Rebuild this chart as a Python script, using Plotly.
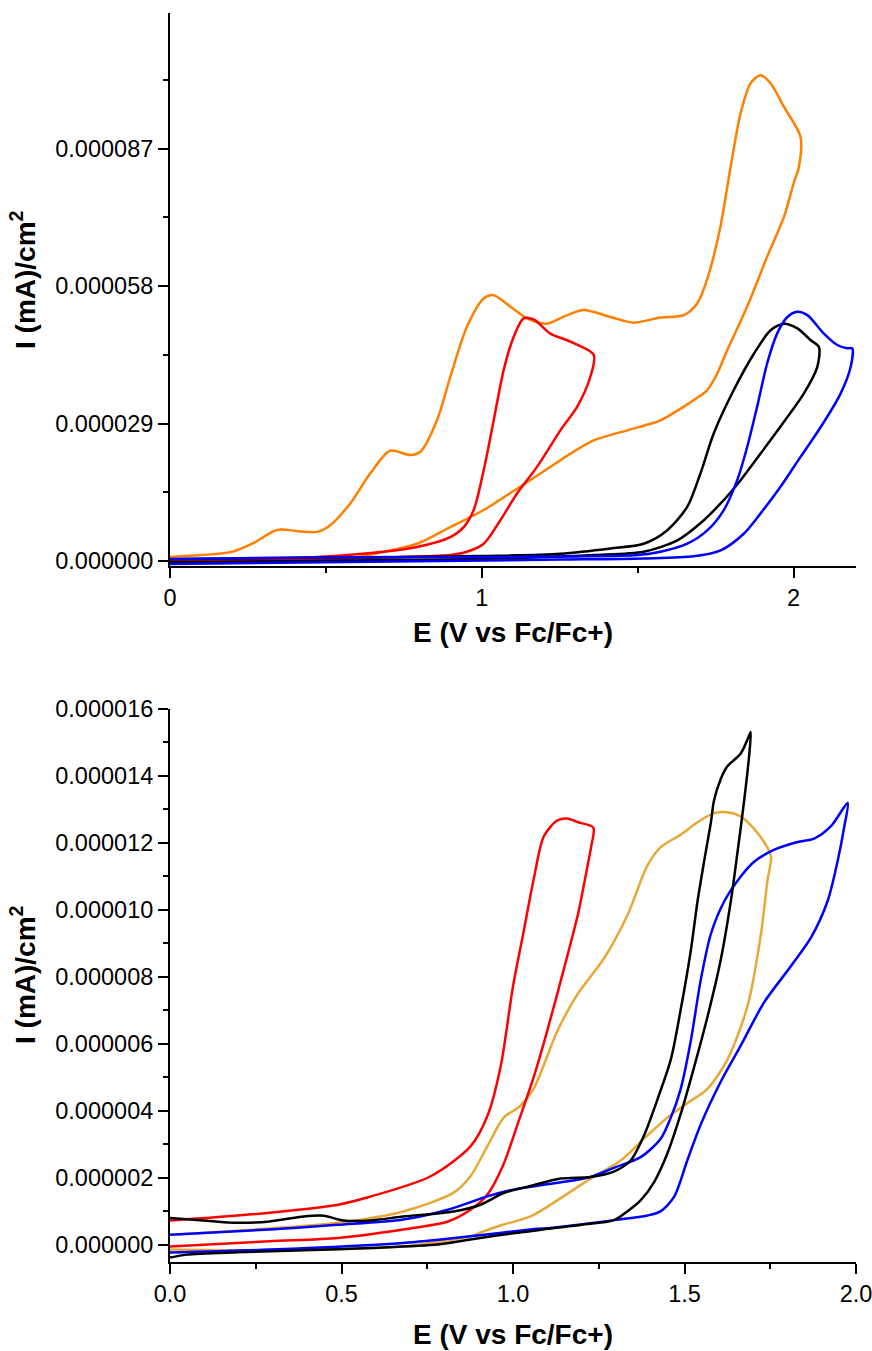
import plotly.graph_objects as go

# Current values are in units of 1e-6 mA/cm^2
SCALE = 1e-6

# ---------------- Top panel ----------------
top_orange_x = [0, 0.10, 0.20, 0.267, 0.343, 0.417, 0.471, 0.514, 0.578, 0.642, 0.706, 0.77, 0.803, 0.856,
                0.899, 0.952, 1.006, 1.038, 1.091, 1.145, 1.209, 1.27, 1.327, 1.413, 1.487, 1.573, 1.648,
                1.691, 1.723, 1.765, 1.798, 1.83, 1.862, 1.894, 1.926, 1.969, 2.022,
                2.017, 2.0, 1.969, 1.915, 1.851, 1.787, 1.755, 1.723, 1.68, 1.648, 1.573, 1.541, 1.466,
                1.359, 1.284, 1.252, 1.113, 1.006, 0.899, 0.792, 0.685, 0.578, 0.471, 0.257, 0]
top_orange_y = [0.9, 1.3, 2.0, 3.8, 6.6, 6.3, 6.2, 7.6, 12.2, 18.5, 23.3, 22.4, 23.1, 29.7,
                38.9, 49.4, 55.4, 56.1, 53.7, 51.2, 50.1, 51.8, 53.0, 51.5, 50.3, 51.4, 51.9,
                54.4, 59.5, 70.5, 83.2, 94.5, 100.8, 102.5, 100.8, 95.8, 89.5,
                83.2, 79.7, 72.6, 64.2, 53.7, 44.5, 39.6, 36.1, 34.0, 32.6, 29.7, 29.0, 27.6,
                25.5, 22.7, 21.3, 15.3, 10.8, 7.2, 3.7, 2.0, 0.6, 0.2, -0.1, -0.3]

top_red_x = [0, 0.3, 0.5, 0.685, 0.792, 0.899, 0.942, 0.974, 1.006, 1.038, 1.07, 1.102, 1.134, 1.166,
             1.22, 1.284, 1.359,
             1.348, 1.306, 1.252, 1.177, 1.113, 1.059, 1.006, 0.952, 0.899, 0.685, 0.4, 0]
top_red_y = [0.3, 0.5, 1.0, 2.0, 3.0, 5.1, 7.2, 10.8, 19.2, 29.7, 40.3, 47.3, 51.2, 51.0,
             48.0, 46.3, 43.5,
             38.9, 32.6, 27.6, 19.9, 14.3, 8.6, 3.7, 2.0, 1.3, 0.8, 0.3, 0.0]

top_black_x = [0, 0.5, 1.0, 1.252, 1.413, 1.519, 1.594, 1.659, 1.701, 1.744, 1.808, 1.873, 1.926, 1.969,
               2.012, 2.055, 2.081,
               2.076, 2.033, 1.98, 1.894, 1.83, 1.766, 1.701, 1.627, 1.519, 1.359, 1.0, 0.5, 0]
top_black_y = [0.4, 0.8, 1.1, 1.6, 2.7, 3.7, 6.5, 11.5, 18.5, 27.0, 36.1, 43.8, 48.7, 50.1,
               49.1, 46.6, 45.2,
               41.0, 35.4, 30.4, 22.7, 17.1, 12.2, 8.0, 4.4, 2.0, 1.3, 0.5, 0.1, -0.2]

top_blue_x = [0, 0.5, 1.0, 1.3, 1.5, 1.573, 1.659, 1.723, 1.776, 1.819, 1.851, 1.883, 1.915, 1.947, 1.98,
              2.012, 2.044, 2.097, 2.14, 2.172, 2.188,
              2.183, 2.151, 2.087, 2.022, 1.958, 1.894, 1.84, 1.766, 1.68, 1.519, 1.252, 0.5, 0]
top_blue_y = [0.5, 0.8, 0.9, 1.0, 1.3, 2.0, 3.7, 6.5, 10.8, 17.1, 24.1, 32.6, 41.7, 48.0, 51.5,
              52.6, 51.9, 48.0, 45.6, 44.9, 44.9,
              41.0, 35.4, 28.3, 22.0, 15.7, 10.1, 5.8, 2.3, 1.05, 0.6, 0.35, -0.2, -0.6]

# ---------------- Bottom panel ----------------
bot_red_x = [0, 0.29, 0.49, 0.68, 0.81, 0.876, 0.925, 0.97, 1.02, 1.06, 1.10, 1.15, 1.19, 1.217, 1.228, 1.234,
             1.19, 1.158, 1.129, 1.09, 1.06, 1.03, 1.0, 0.964, 0.925, 0.876, 0.76, 0.58, 0.49, 0.29, 0]
bot_red_y = [-0.05, 0.11, 0.21, 0.46, 0.7, 1.05, 1.5, 2.35, 3.8, 5.0, 6.4, 8.3, 9.9, 11.3, 11.9, 12.46,
             12.62, 12.73, 12.67, 12.2, 10.9, 9.3, 7.72, 5.33, 3.84, 2.94, 2.05, 1.43, 1.2, 0.96, 0.73]

bot_gold_x = [0, 0.29, 0.68, 0.876, 0.905, 0.963, 1.051, 1.129, 1.226, 1.314, 1.392, 1.45, 1.508, 1.567,
              1.625, 1.684, 1.723, 1.742, 1.752,
              1.713, 1.664, 1.625, 1.586, 1.538, 1.489, 1.43, 1.392, 1.333, 1.265, 1.187, 1.129, 1.06,
              1.02, 0.973, 0.925, 0.876, 0.827, 0.68, 0.487, 0]
bot_gold_y = [-0.14, -0.16, -0.04, 0.26, 0.37, 0.58, 0.85, 1.33, 1.98, 2.52, 3.27, 3.8, 4.23, 4.66,
              5.53, 7.14, 9.29, 10.9, 11.6,
              12.3, 12.79, 12.92, 12.89, 12.62, 12.25, 11.87, 11.33, 9.83, 8.55, 7.47, 6.38, 4.66,
              4.14, 3.8, 2.94, 2.05, 1.56, 1.0, 0.66, 0.3]

bot_blue_x = [0, 0.29, 0.68, 0.876, 1.05, 1.1, 1.294, 1.392, 1.43, 1.47, 1.508, 1.547, 1.606, 1.664, 1.732,
              1.81, 1.869, 1.917, 1.946, 1.966, 1.976,
              1.927, 1.878, 1.83, 1.762, 1.703, 1.664, 1.616, 1.577, 1.547, 1.518, 1.489, 1.46, 1.43,
              1.372, 1.294, 1.226, 1.1, 1.0, 0.925, 0.81, 0.68, 0.487, 0.29, 0]
bot_blue_y = [-0.23, -0.14, 0.06, 0.26, 0.46, 0.5, 0.74, 0.88, 1.0, 1.44, 2.52, 3.59, 4.88, 5.95, 7.24,
              8.32, 9.18, 10.26, 11.44, 12.5, 13.2,
              12.5, 12.13, 12.03, 11.8, 11.44, 11.0, 10.26, 9.29, 7.89, 6.07, 4.66, 3.8, 3.16,
              2.62, 2.3, 2.03, 1.81, 1.65, 1.45, 1.05, 0.76, 0.6, 0.46, 0.3]

bot_black_x = [0, 0.049, 0.195, 0.39, 0.584, 0.78, 0.876, 0.973, 1.05, 1.1, 1.2, 1.294, 1.333, 1.372, 1.411,
               1.45, 1.489, 1.528, 1.567, 1.606, 1.635, 1.655, 1.674, 1.689, 1.693,
               1.684, 1.664, 1.625, 1.606, 1.586, 1.577, 1.557, 1.538, 1.518, 1.489, 1.46, 1.421, 1.382,
               1.343, 1.294, 1.226, 1.139, 1.051, 0.973, 0.905, 0.827, 0.68, 0.584, 0.506, 0.448, 0.39,
               0.29, 0.195, 0.097, 0]
bot_black_y = [-0.38, -0.29, -0.22, -0.16, -0.09, 0.01, 0.16, 0.31, 0.41, 0.48, 0.6, 0.74, 1.0, 1.33, 1.87,
               2.73, 3.91, 5.31, 6.81, 8.53, 10.26, 11.76, 13.27, 14.67, 15.31,
               15.1, 14.67, 14.29, 13.92, 13.27, 12.62, 11.44, 10.26, 8.76, 7.03, 5.53, 4.34, 3.27,
               2.52, 2.19, 2.03, 1.98, 1.76, 1.55, 1.2, 1.0, 0.85, 0.73, 0.73, 0.87, 0.85,
               0.7, 0.66, 0.73, 0.8]

ORANGE = "#FF8000"
RED = "#FF0000"
BLUE = "#0000FF"
BLACK = "#000000"
GOLD = "#E8A838"

FONT = "Liberation Sans, Arial, sans-serif"
LW = 2.5

fig = go.Figure()

def add(xs, ys, color, xa, ya):
    fig.add_trace(go.Scatter(
        x=xs, y=[v * SCALE for v in ys], mode="lines",
        line=dict(color=color, width=LW, shape="spline", smoothing=0.8),
        xaxis=xa, yaxis=ya, showlegend=False, hoverinfo="skip"))

add(top_orange_x, top_orange_y, ORANGE, "x", "y")
add(top_red_x, top_red_y, RED, "x", "y")
add(top_black_x, top_black_y, BLACK, "x", "y")
add(top_blue_x, top_blue_y, BLUE, "x", "y")

add(bot_gold_x, bot_gold_y, GOLD, "x2", "y2")
add(bot_red_x, bot_red_y, RED, "x2", "y2")
add(bot_blue_x, bot_blue_y, BLUE, "x2", "y2")
add(bot_black_x, bot_black_y, BLACK, "x2", "y2")

W, H = 872, 1351
# page-pixel positions of the plot area
PL, PR, PT, PB = 170, 856, 13, 1262
ML, MR, MT, MB = PL, W - PR, PT, H - PB
PH = H - MT - MB
PW = W - ML - MR

def pyfrac(py):
    return (PB - py) / PH

def pxfrac(px):
    return (px - PL) / PW

axis_common = dict(showline=True, linecolor="black", linewidth=2, ticks="outside", ticklen=10,
                   tickwidth=2, tickcolor="black", showgrid=False, zeroline=False, automargin=False,
                   ticklabeloverflow="allow",
                   tickfont=dict(family=FONT, size=23.5, color="black"), mirror=False)

top_dom = [pyfrac(566), 1.0]
bot_dom = [0.0, pyfrac(709)]

minor_style = dict(ticks="outside", ticklen=5, tickwidth=2, tickcolor="black")

fig.update_layout(
    template="none",
    width=W, height=H,
    margin=dict(l=ML, r=MR, t=MT, b=MB, pad=0, autoexpand=False),
    paper_bgcolor="white", plot_bgcolor="white",
    xaxis=dict(axis_common, domain=[0, 1], range=[0, 2.2], anchor="y", tick0=0, dtick=1,
               minor=dict(minor_style, dtick=0.5)),
    yaxis=dict(axis_common, domain=top_dom, range=[-1.0e-6, 115.6e-6], anchor="x",
               tick0=0, dtick=29e-6, tickformat=".6f",
               minor=dict(minor_style, dtick=14.5e-6)),
    xaxis2=dict(axis_common, domain=[0, 1], range=[0, 2.0], anchor="y2", tick0=0, dtick=0.5,
                tickformat=".1f",
                minor=dict(minor_style, dtick=0.25)),
    yaxis2=dict(axis_common, domain=bot_dom, range=[-0.51e-6, 16e-6], anchor="x2",
                tick0=0, dtick=2e-6, tickformat=".6f",
                minor=dict(minor_style, dtick=1e-6)),
)

title_font = dict(family=FONT, size=28, color="black")
ann = [
    dict(text="<b>E (V vs Fc/Fc+)</b>", x=0.5, y=pyfrac(632)),
    dict(text="<b>E (V vs Fc/Fc+)</b>", x=0.5, y=pyfrac(1334)),
    dict(text="<b>I (mA)/cm<sup>2</sup></b>", x=pxfrac(23), y=pyfrac(280), textangle=-90),
    dict(text="<b>I (mA)/cm<sup>2</sup></b>", x=pxfrac(23), y=pyfrac(975), textangle=-90),
]
for a in ann:
    fig.add_annotation(xref="paper", yref="paper", showarrow=False, xanchor="center",
                       yanchor="middle", font=title_font, **a)

# remove the default 8px page margin so the figure fills the 872x1351 window exactly
POST = ("document.documentElement.style.margin='0';document.body.style.margin='0';"
        "document.body.style.padding='0';document.body.style.overflow='hidden';"
        "document.documentElement.style.overflow='hidden';")

fig.write_html("out.html", post_script=POST, config={"displayModeBar": False})
